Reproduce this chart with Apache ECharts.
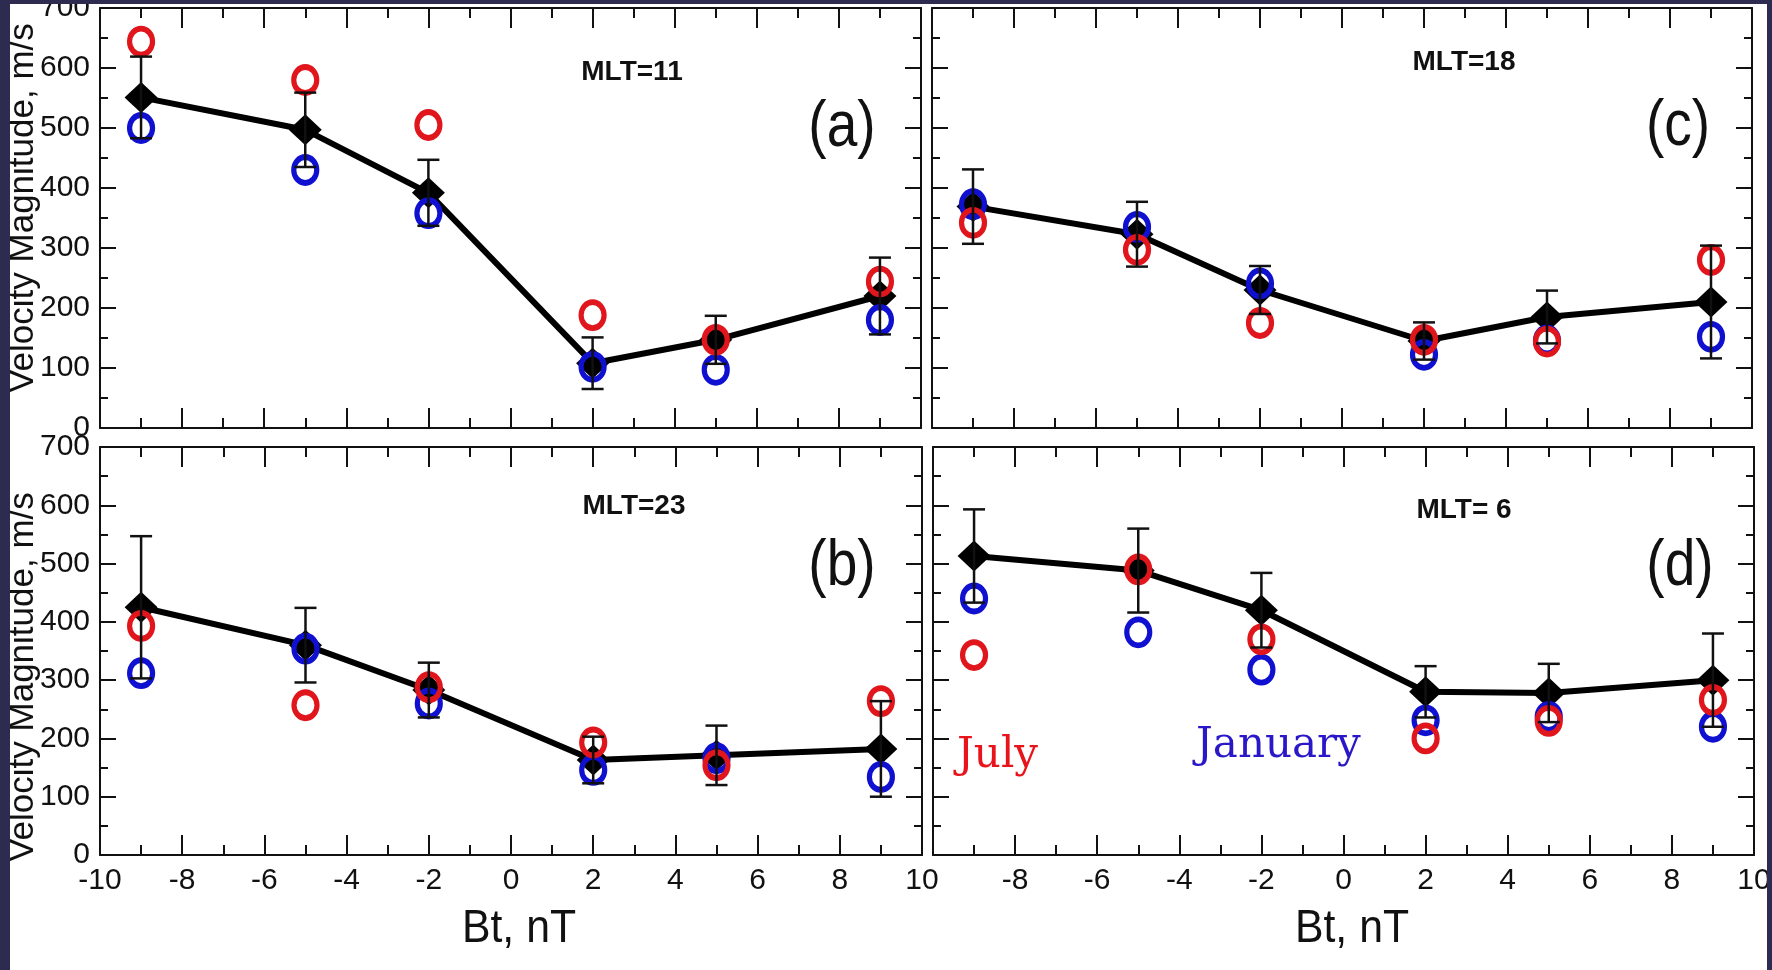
<!DOCTYPE html>
<html>
<head>
<meta charset="utf-8">
<script src="https://cdn.jsdelivr.net/npm/echarts@6/dist/echarts.min.js"></script>
<style>
  html, body { margin: 0; padding: 0; background: #fff; }
  #chart { width: 1772px; height: 970px; }
</style>
</head>
<body>
<div id="chart"></div>
<script>
// Bt bins (nT)
const btValues = [-9, -5, -2, 2, 5, 9];

// (a) MLT=11
const meanA = [551, 497, 392, 108, 147, 220];
const errA  = [68, 62, 55, 43, 40, 64];
const julyA = [644, 580, 505, 188, 147, 244];
const janA  = [500, 430, 358, 102, 97, 180];

// (c) MLT=18
const meanC = [369, 323, 230, 145, 185, 210];
const errC  = [62, 54, 40, 31, 44, 94];
const julyC = [342, 297, 175, 147, 144, 280];
const janC  = [373, 335, 241, 122, 146, 152];

// (b) MLT=23
const meanB = [425, 360, 283, 163, 171, 182];
const errB  = [122, 64, 47, 40, 51, 82];
const julyB = [393, 257, 288, 193, 154, 264];
const janB  = [312, 354, 260, 146, 166, 134];

// (d) MLT=6
const meanD = [513, 488, 420, 280, 278, 300];
const errD  = [80, 72, 64, 44, 50, 80];
const julyD = [343, 490, 370, 200, 230, 266];
const janD  = [440, 382, 318, 231, 237, 220];

const RED = '#e0161c';
const BLUE = '#1010d0';
const NAVY = '#2d2b50';
const FONT = 'Liberation Sans, Arial, sans-serif';

const panels = [
  { grid: { left: 100, top: 8, width: 821, height: 420 }, mean: meanA, err: errA, july: julyA, jan: janA, xLabels: false, yLabels: true },
  { grid: { left: 932, top: 8, width: 820, height: 420 }, mean: meanC, err: errC, july: julyC, jan: janC, xLabels: false, yLabels: false },
  { grid: { left: 100, top: 447, width: 822, height: 408 }, mean: meanB, err: errB, july: julyB, jan: janB, xLabels: true, yLabels: true },
  { grid: { left: 933, top: 447, width: 821, height: 408 }, mean: meanD, err: errD, july: julyD, jan: janD, xLabels: true, yLabels: false, hideMin: true },
];

const zip = (xs, ys) => xs.map((x, i) => [x, ys[i]]);

function errorBar(params, api) {
  const x = api.value(0);
  const top = api.coord([x, api.value(2)]);
  const bot = api.coord([x, api.value(1)]);
  const hw = 11;
  const style = { stroke: '#111', lineWidth: 2.5, fill: null };
  return {
    type: 'group',
    children: [
      { type: 'line', shape: { x1: top[0], y1: top[1], x2: bot[0], y2: bot[1] }, style },
      { type: 'line', shape: { x1: top[0] - hw, y1: top[1], x2: top[0] + hw, y2: top[1] }, style },
      { type: 'line', shape: { x1: bot[0] - hw, y1: bot[1], x2: bot[0] + hw, y2: bot[1] }, style },
    ],
  };
}

const lineBlack = { color: '#111', width: 2 };
const grids = [], xAxes = [], yAxes = [], series = [];

panels.forEach((p, g) => {
  grids.push(Object.assign({ outerBoundsMode: 'none' }, p.grid));
  ['bottom', 'top'].forEach((pos, k) => {
    xAxes.push({
      type: 'value', gridIndex: g, position: pos, min: -10, max: 10, interval: 2,
      axisLine: { onZero: false, lineStyle: lineBlack },
      axisTick: { inside: true, length: 20, lineStyle: lineBlack },
      minorTick: { show: true, splitNumber: 2, length: 10, lineStyle: lineBlack },
      splitLine: { show: false },
      axisLabel: {
        show: k === 0 && p.xLabels, margin: 11, fontSize: 30, fontFamily: FONT, color: '#111',
        showMinLabel: !p.hideMin,
      },
    });
  });
  ['left', 'right'].forEach((pos, k) => {
    yAxes.push({
      type: 'value', gridIndex: g, position: pos, min: 0, max: 700, interval: 100,
      axisLine: { show: true, onZero: false, lineStyle: lineBlack },
      axisTick: { show: true, inside: true, length: 16, lineStyle: lineBlack },
      minorTick: { show: true, splitNumber: 2, length: 8, lineStyle: lineBlack },
      splitLine: { show: false },
      axisLabel: { show: k === 0 && p.yLabels, margin: 10, fontSize: 30, fontFamily: FONT, color: '#111' },
    });
  });

  const ax = { xAxisIndex: 2 * g, yAxisIndex: 2 * g };
  series.push(Object.assign({
    type: 'line', data: zip(btValues, p.mean), symbol: 'diamond', symbolSize: [33, 31],
    lineStyle: { color: '#000', width: 6 }, itemStyle: { color: '#000' }, z: 2,
  }, ax));
  series.push(Object.assign({
    type: 'scatter', data: zip(btValues, p.jan), symbol: 'circle', symbolSize: [23, 26],
    itemStyle: { color: 'rgba(0,0,0,0)', borderColor: BLUE, borderWidth: 5.5, opacity: 1 }, z: 3,
  }, ax));
  series.push(Object.assign({
    type: 'scatter', data: zip(btValues, p.july), symbol: 'circle', symbolSize: [23, 26],
    itemStyle: { color: 'rgba(0,0,0,0)', borderColor: RED, borderWidth: 5.5, opacity: 1 }, z: 4,
  }, ax));
  series.push(Object.assign({
    type: 'custom', renderItem: errorBar, encode: { x: 0, y: [1, 2] },
    data: btValues.map((x, i) => [x, p.mean[i] - p.err[i], p.mean[i] + p.err[i]]), z: 5,
  }, ax));
});

function label(text, x, y, size, opts) {
  return Object.assign({
    type: 'text', x, y, z: 50,
    style: Object.assign({
      text, fontSize: size, fontFamily: FONT, fill: '#111', align: 'center', verticalAlign: 'middle',
    }, (opts && opts.style) || {}),
  }, (opts && opts.el) || {});
}

const graphics = [
  label('MLT=11', 632, 72, 28, { style: { fontWeight: 'bold' } }),
  label('MLT=18', 1464, 62, 28, { style: { fontWeight: 'bold' } }),
  label('MLT=23', 634, 506, 28, { style: { fontWeight: 'bold' } }),
  label('MLT= 6', 1464, 510, 28, { style: { fontWeight: 'bold' } }),
  label('(a)', 842, 128, 64, { el: { scaleX: 0.86 } }),
  label('(c)', 1678, 127, 64, { el: { scaleX: 0.86 } }),
  label('(b)', 842, 567, 64, { el: { scaleX: 0.86 } }),
  label('(d)', 1680, 567, 64, { el: { scaleX: 0.86 } }),
  label('Bt, nT', 519, 929, 46, { el: { scaleX: 0.93 } }),
  label('Bt, nT', 1352, 929, 46, { el: { scaleX: 0.93 } }),
  label('Velocity Magnitude, m/s', 23, 208, 35, { el: { rotation: Math.PI / 2 } }),
  label('Velocity Magnitude, m/s', 23, 677, 35, { el: { rotation: Math.PI / 2 } }),
  { type: 'text', x: 957, y: 735, z: 50,
    style: { text: 'July', fontSize: 42, fontFamily: 'DejaVu Serif, serif', fill: '#e8141c', align: 'left', verticalAlign: 'alphabetic' } },
  { type: 'text', x: 1196, y: 725, z: 50,
    style: { text: 'January', fontSize: 42, fontFamily: 'DejaVu Serif, serif', fill: '#2a18c8', align: 'left', verticalAlign: 'alphabetic' } },
  // dark frame around the figure
  { type: 'rect', z: 100, shape: { x: 0, y: 0, width: 10, height: 970 }, style: { fill: NAVY } },
  { type: 'rect', z: 100, shape: { x: 0, y: 0, width: 1772, height: 4 }, style: { fill: NAVY } },
  { type: 'rect', z: 100, shape: { x: 1767, y: 0, width: 5, height: 970 }, style: { fill: NAVY } },
];

const chart = echarts.init(document.getElementById('chart'), null, { renderer: 'canvas', width: 1772, height: 970 });
chart.setOption({
  animation: false,
  backgroundColor: '#fff',
  grid: grids,
  xAxis: xAxes,
  yAxis: yAxes,
  series,
  graphic: graphics,
});
</script>
</body>
</html>
